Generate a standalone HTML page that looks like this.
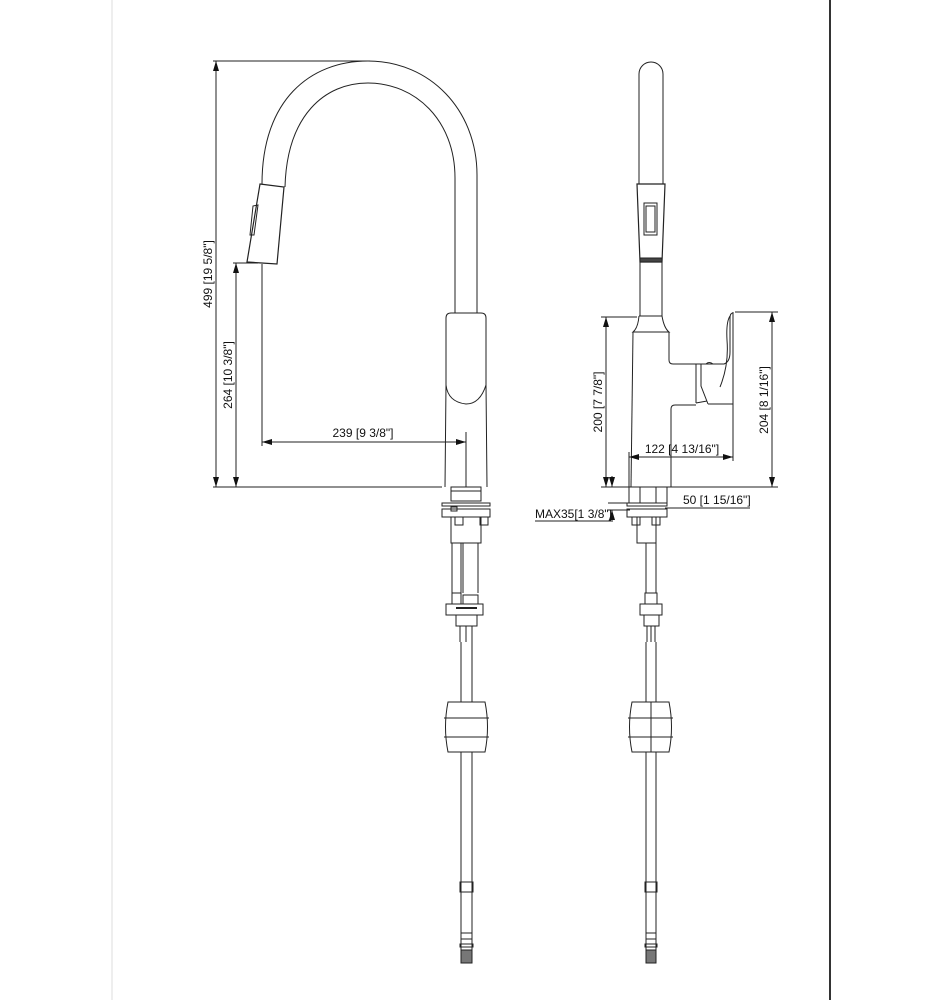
<!DOCTYPE html>
<html><head><meta charset="utf-8"><style>
html,body{margin:0;padding:0;background:#fff;}
svg{display:block;}
text{font-family:"Liberation Sans",sans-serif;font-size:12px;fill:#111;}
</style></head><body>
<svg width="944" height="1000" viewBox="0 0 944 1000" xmlns="http://www.w3.org/2000/svg">
<defs>
<marker id="a" viewBox="0 0 10 6" refX="10" refY="3" markerWidth="10" markerHeight="6" orient="auto-start-reverse" markerUnits="userSpaceOnUse"><path d="M0,0 L10,3 L0,6 Z" fill="#111"/></marker>
</defs>
<line x1="112" y1="0" x2="112" y2="1000" stroke="#ddd" stroke-width="1"/>
<line x1="830" y1="0" x2="830" y2="1000" stroke="#000" stroke-width="1.6"/>

<g fill="none" stroke="#222" stroke-width="1">
<!-- LEFT VIEW -->
<path d="M262,184 C262,100 310,61 368,61 C430,61 477,110 477,175 L477,313"/>
<path d="M285,187 C287,115 325,83 368,83 C415,83 455,120 455,178 L455,313"/>
<path d="M260,184 L284,187 L277,264 L247,262 Z" stroke-width="1.2"/>
<path d="M253,206 L258,205 L254,235 L250,235 Z"/>
<path d="M446,318 Q446,313 451,313 L481,313 Q486,313 486,318 L486,385 Q480,404 466,404 Q448,402 446,385 Z"/>
<path d="M446,385 L445,487 M486,385 L487,487"/>
<!-- dims left -->
<line x1="213" y1="61" x2="370" y2="61"/>
<line x1="213" y1="487" x2="442" y2="487"/>
<line x1="216" y1="61" x2="216" y2="487" marker-start="url(#a)" marker-end="url(#a)"/>
<line x1="233" y1="263" x2="258" y2="263"/>
<line x1="236" y1="263" x2="236" y2="487" marker-start="url(#a)" marker-end="url(#a)"/>
<line x1="262" y1="264" x2="262" y2="446"/>
<line x1="466" y1="432" x2="466" y2="487"/>
<line x1="262" y1="442" x2="466" y2="442" marker-start="url(#a)" marker-end="url(#a)"/>
<!-- left under-deck -->
<rect x="451" y="487" width="30" height="14"/>
<line x1="451" y1="491" x2="481" y2="491"/>
<rect x="442" y="503" width="48" height="3"/>
<rect x="442" y="509" width="48" height="8"/>
<rect x="451" y="507" width="6" height="4"/>
<rect x="455" y="517" width="8" height="8"/><rect x="480" y="517" width="8" height="8"/>
<rect x="451" y="517" width="30" height="26"/>
<line x1="452" y1="543" x2="452" y2="593"/><line x1="461" y1="543" x2="461" y2="593"/>
<line x1="463" y1="543" x2="463" y2="593"/><line x1="478" y1="543" x2="478" y2="593"/>
<rect x="452" y="593" width="9" height="11"/><rect x="463" y="595" width="15" height="9"/>
<rect x="446" y="604" width="37" height="11"/>
<line x1="456" y1="608" x2="477" y2="608" stroke-width="2"/>
<rect x="456" y="615" width="21" height="11"/>
<line x1="460" y1="626" x2="460" y2="642"/><line x1="466" y1="626" x2="466" y2="642"/><line x1="472" y1="626" x2="472" y2="642"/>
<line x1="461" y1="642" x2="461" y2="702"/><line x1="472" y1="642" x2="472" y2="702"/>
<path d="M448,702 L485,702 Q490,727 485,752 L448,752 Q443,727 448,702 Z"/>
<line x1="444" y1="718" x2="489" y2="718"/><line x1="444" y1="737" x2="489" y2="737"/>
<line x1="461" y1="752" x2="461" y2="963"/><line x1="472" y1="752" x2="472" y2="963"/>
<rect x="460" y="882" width="13" height="10"/>
<rect x="461" y="933" width="11" height="6"/><rect x="460" y="944" width="13" height="3"/>
<rect x="461" y="950" width="11" height="13" fill="#777"/>

<!-- RIGHT VIEW -->
<path d="M639,184 L639,74 A12,12 0 0 1 663,74 L663,184"/>
<path d="M637,184 L665,184 L662,262 L640,262 Z" stroke-width="1.2"/>
<rect x="644" y="203" width="13" height="32"/><rect x="646" y="206" width="9" height="26"/>
<rect x="640" y="258" width="22" height="4" fill="#444"/>
<path d="M640,262 L640,316 M662,262 L662,316"/>
<path d="M639,316 L662,316 Q664,328 669,332 L633,332 Q638,328 639,316"/>
<path d="M633,332 L631,487"/>
<path d="M669,332 L669,360 Q669,364 673,364 L724,364 Q730,362 730,352 L730,318 Q730,313 733,313"/>
<path d="M733,312 L733,461"/>
<path d="M730,316 Q726,322 727,340 Q729,365 720,387"/>
<path d="M696,364 L696,403 M701,364 L701,386 L708,404 M696,403 L707,401"/>
<path d="M671,487 L671,409 Q671,405 675,405 L696,405 M708,404 L733,404"/>
<path d="M706,364 Q709,361 713,364"/>
<!-- dims right -->
<line x1="601" y1="317" x2="637" y2="317"/>
<line x1="606" y1="317" x2="606" y2="487" marker-start="url(#a)" marker-end="url(#a)"/>
<line x1="735" y1="312" x2="778" y2="312"/>
<line x1="772" y1="312" x2="772" y2="487" marker-start="url(#a)" marker-end="url(#a)"/>
<line x1="601" y1="487" x2="778" y2="487"/>
<line x1="629" y1="452" x2="629" y2="487"/>
<line x1="629" y1="457" x2="733" y2="457" marker-start="url(#a)" marker-end="url(#a)"/>
<line x1="612" y1="476" x2="612" y2="487" marker-end="url(#a)"/>
<line x1="612" y1="520" x2="612" y2="510" marker-end="url(#a)"/>
<line x1="608" y1="503" x2="630" y2="503"/>
<line x1="608" y1="510" x2="630" y2="510"/>
<line x1="535" y1="521" x2="613" y2="521"/>
<line x1="665" y1="508" x2="750" y2="508"/>
<!-- right under-deck -->
<rect x="629" y="487" width="38" height="16"/>
<line x1="640" y1="487" x2="640" y2="503"/><line x1="656" y1="487" x2="656" y2="503"/>
<rect x="627" y="503" width="40" height="3"/>
<rect x="627" y="509" width="40" height="8"/>
<rect x="632" y="517" width="8" height="8"/><rect x="652" y="517" width="8" height="8"/>
<rect x="637" y="517" width="19" height="26"/>
<line x1="646" y1="543" x2="646" y2="593"/><line x1="656" y1="543" x2="656" y2="593"/>
<rect x="645" y="593" width="12" height="11"/>
<rect x="640" y="604" width="22" height="11"/>
<rect x="644" y="615" width="15" height="11"/>
<line x1="647" y1="626" x2="647" y2="642"/><line x1="651" y1="626" x2="651" y2="642"/><line x1="655" y1="626" x2="655" y2="642"/>
<line x1="646" y1="642" x2="646" y2="702"/><line x1="656" y1="642" x2="656" y2="702"/>
<path d="M632,702 L669,702 Q674,727 669,752 L632,752 Q627,727 632,702 Z"/>
<line x1="628" y1="718" x2="673" y2="718"/><line x1="628" y1="737" x2="673" y2="737"/>
<line x1="651" y1="702" x2="651" y2="752"/>
<line x1="646" y1="752" x2="646" y2="963"/><line x1="656" y1="752" x2="656" y2="963"/>
<rect x="645" y="882" width="12" height="10"/>
<rect x="646" y="933" width="10" height="6"/><rect x="645" y="944" width="12" height="3"/>
<rect x="646" y="950" width="10" height="13" fill="#777"/>
</g>

<text x="363" y="437" text-anchor="middle">239 [9 3/8"]</text>
<text transform="translate(212,274) rotate(-90)" text-anchor="middle">499 [19 5/8"]</text>
<text transform="translate(232,375) rotate(-90)" text-anchor="middle">264 [10 3/8"]</text>
<text transform="translate(602,402) rotate(-90)" text-anchor="middle">200 [7 7/8"]</text>
<text transform="translate(768,400) rotate(-90)" text-anchor="middle">204 [8 1/16"]</text>
<text x="682" y="453" text-anchor="middle">122 [4 13/16"]</text>
<text x="535" y="518">MAX35[1 3/8"]</text>
<text x="683" y="504">50 [1 15/16"]</text>
</svg>
</body></html>
